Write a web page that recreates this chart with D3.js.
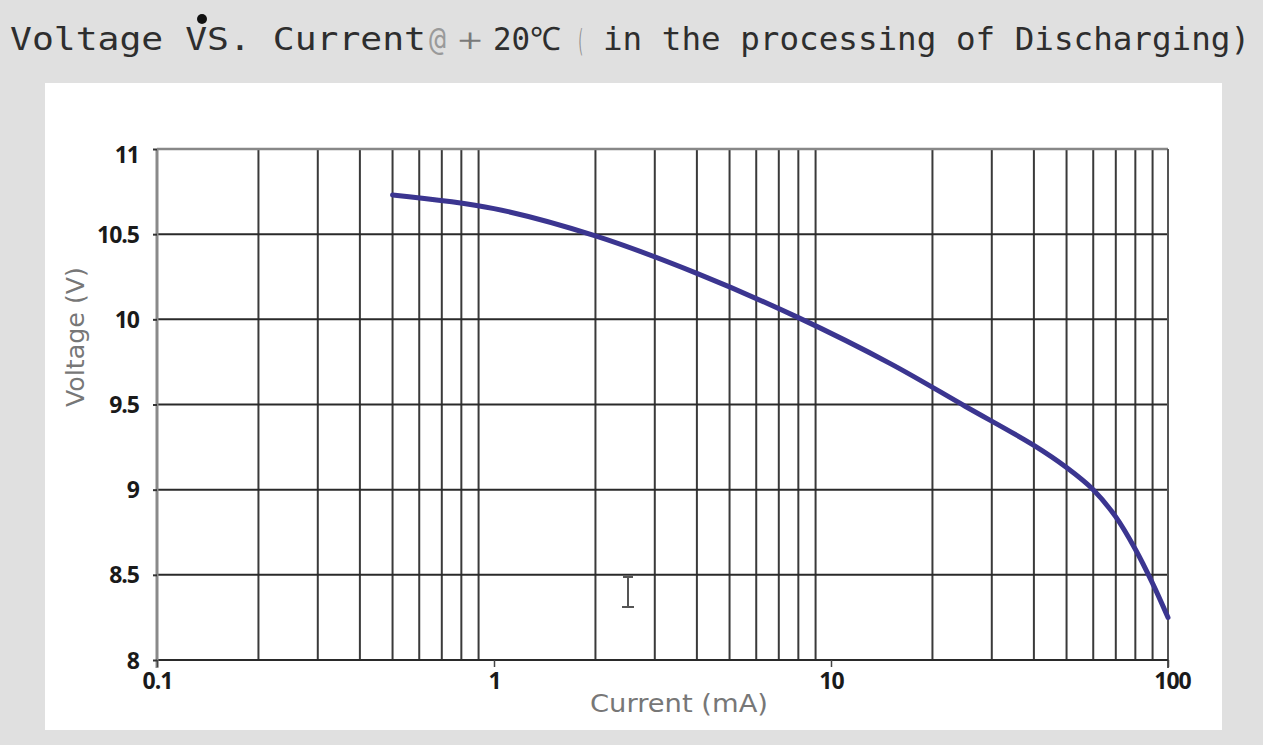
<!DOCTYPE html>
<html>
<head>
<meta charset="utf-8">
<script src="https://cdn.jsdelivr.net/npm/d3@7/dist/d3.min.js"></script>
<style>
  html, body { margin: 0; padding: 0; background: #e0e0e0; }
  svg { display: block; }
</style>
</head>
<body>
<svg id="chart" width="1263" height="745"></svg>
<script>
// ---- data ----
const currentMA = [0.5, 1, 2, 4, 8, 15, 25, 40, 50, 60, 70, 80, 90, 100];
const voltageV  = [10.73, 10.65, 10.49, 10.27, 10.01, 9.74, 9.49, 9.26, 9.13, 9.0, 8.84, 8.65, 8.45, 8.25];
const xMajorTicks = [0.1, 1, 10, 100];
const xTickLabels = ["0.1", "1", "10", "100"];
const xGridValues = [0.2, 0.3, 0.4, 0.5, 0.6, 0.7, 0.8, 0.9, 2, 3, 4, 5, 6, 7, 8, 9, 20, 30, 40, 50, 60, 70, 80, 90];
const yTicks = [8, 8.5, 9, 9.5, 10, 10.5, 11];
const yTickLabels = ["8", "8.5", "9", "9.5", "10", "10.5", "11"];
const titleParts = ["Voltage VS. Current", "@", "＋", "20℃", "（", "in the processing of Discharging)"];

// ---- layout ----
const svg = d3.select("#chart");
const W = 1263, H = 745;
const plot = { left: 157, right: 1168, top: 149, bottom: 660 };

svg.append("rect").attr("x", 0).attr("y", 0).attr("width", W).attr("height", H).attr("fill", "#e0e0e0");
svg.append("rect").attr("x", 45).attr("y", 83).attr("width", 1177).attr("height", 647).attr("fill", "#ffffff");

const x = d3.scaleLog().domain([0.1, 100]).range([plot.left, plot.right]);
const y = d3.scaleLinear().domain([8, 11]).range([plot.bottom, plot.top]);

// title (segments placed like the monospaced original)
const titleSegs = [
  { x: 10,  w: 416, c: "#2e2e2e" },
  { x: 429, w: 17,  c: "#9a9a9a" },
  { x: 450, w: 40,  c: "#7a7a7a" },
  { x: 493, w: 68,  c: "#2e2e2e" },
  { x: 571, w: 13,  c: "#8a8a8a" },
  { x: 603, w: 647, c: "#2e2e2e" }
];
titleParts.forEach((t, i) => {
  svg.append("text")
    .attr("x", titleSegs[i].x).attr("y", 50)
    .attr("font-family", "'DejaVu Sans Mono', 'Liberation Mono', monospace")
    .attr("font-size", 32)
    .attr("fill", titleSegs[i].c)
    .attr("textLength", titleSegs[i].w)
    .attr("lengthAdjust", "spacingAndGlyphs")
    .text(t);
});
svg.append("circle").attr("cx", 202).attr("cy", 19).attr("r", 5).attr("fill", "#111");

// vertical grid lines
svg.append("g").selectAll("line").data(xGridValues).join("line")
  .attr("x1", d => x(d)).attr("x2", d => x(d))
  .attr("y1", plot.top).attr("y2", plot.bottom)
  .attr("stroke", "#3a3a3a").attr("stroke-width", 2);

// horizontal grid lines
svg.append("g").selectAll("line").data(yTicks.filter(v => v > 8 && v < 11)).join("line")
  .attr("x1", plot.left).attr("x2", plot.right)
  .attr("y1", d => y(d)).attr("y2", d => y(d))
  .attr("stroke", "#2a2a2a").attr("stroke-width", 2);

// frame
svg.append("line").attr("x1", plot.left).attr("x2", plot.right).attr("y1", y(11)).attr("y2", y(11))
  .attr("stroke", "#888").attr("stroke-width", 2.5);
svg.append("line").attr("x1", x(100)).attr("x2", x(100)).attr("y1", plot.top).attr("y2", plot.bottom + 8)
  .attr("stroke", "#555").attr("stroke-width", 2);
svg.append("line").attr("x1", plot.left).attr("x2", plot.right).attr("y1", y(8)).attr("y2", y(8))
  .attr("stroke", "#2a2a2a").attr("stroke-width", 2);
svg.append("line").attr("x1", x(0.1)).attr("x2", x(0.1)).attr("y1", plot.top).attr("y2", plot.bottom + 8)
  .attr("stroke", "#8a8a8a").attr("stroke-width", 3);

// y axis
const yAxis = d3.axisLeft(y).tickValues(yTicks)
  .tickFormat((d, i) => yTickLabels[i]).tickSize(4).tickPadding(14);
const gy = svg.append("g").attr("transform", `translate(${plot.left},0)`).call(yAxis);
gy.select(".domain").remove();
gy.selectAll(".tick line").attr("stroke", "#333").attr("stroke-width", 2);
gy.selectAll(".tick text")
  .attr("font-family", "'Open Sans', sans-serif").attr("font-weight", "bold")
  .attr("font-size", 23).attr("letter-spacing", -1).attr("fill", "#1a1a1a")
  .attr("dy", (d) => d === 11 ? "0.6em" : "0.35em");

// x axis
const xAxis = d3.axisBottom(x).tickValues(xMajorTicks)
  .tickFormat((d, i) => xTickLabels[i]).tickSize(7).tickPadding(6);
const gx = svg.append("g").attr("transform", `translate(0,${plot.bottom})`).call(xAxis);
gx.select(".domain").remove();
gx.selectAll(".tick line").attr("stroke", "#444").attr("stroke-width", 1.5);
gx.selectAll(".tick text")
  .attr("font-family", "'Open Sans', sans-serif").attr("font-weight", "bold")
  .attr("font-size", 23).attr("letter-spacing", -1).attr("fill", "#1a1a1a")
  .attr("dx", (d) => d === 100 ? 4 : 0);

// axis titles
svg.append("text")
  .attr("x", 679).attr("y", 712)
  .attr("text-anchor", "middle")
  .attr("font-family", "'DejaVu Sans', sans-serif").attr("font-size", 25)
  .attr("fill", "#777").attr("textLength", 178).attr("lengthAdjust", "spacingAndGlyphs")
  .text("Current (mA)");
svg.append("text")
  .attr("transform", "translate(84,337) rotate(-90)")
  .attr("text-anchor", "middle")
  .attr("font-family", "'DejaVu Sans', sans-serif").attr("font-size", 25)
  .attr("fill", "#777").attr("textLength", 140).attr("lengthAdjust", "spacingAndGlyphs")
  .text("Voltage (V)");

// curve
const pts = currentMA.map((c, i) => [c, voltageV[i]]);
const line = d3.line().x(d => x(d[0])).y(d => y(d[1])).curve(d3.curveCatmullRom.alpha(0.5));
svg.append("path").datum(pts)
  .attr("d", line)
  .attr("fill", "none")
  .attr("stroke", "#3b3590")
  .attr("stroke-width", 5)
  .attr("stroke-linecap", "round");

// I-beam cursor artifact
const cur = svg.append("g").attr("stroke", "#555").attr("stroke-width", 2).attr("fill", "none");
cur.append("line").attr("x1", 628).attr("x2", 628).attr("y1", 577).attr("y2", 607);
cur.append("line").attr("x1", 623).attr("x2", 633).attr("y1", 577).attr("y2", 577);
cur.append("line").attr("x1", 622).attr("x2", 634).attr("y1", 607).attr("y2", 607);
</script>
</body>
</html>
